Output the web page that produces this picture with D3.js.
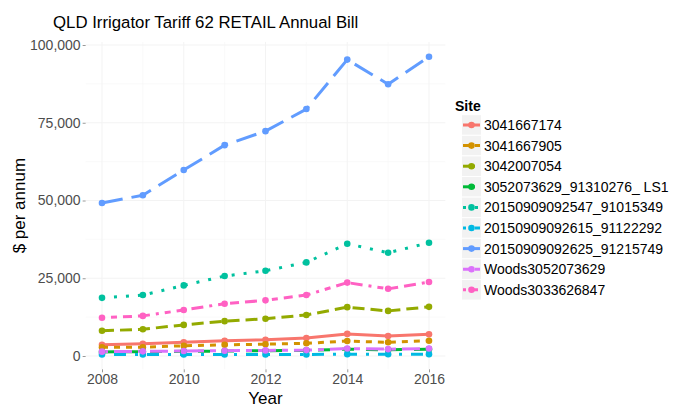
<!DOCTYPE html>
<html>
<head>
<meta charset="utf-8">
<script src="https://cdn.jsdelivr.net/npm/d3@7"></script>
<style>
  html, body { margin: 0; padding: 0; background: #fff; }
  svg { display: block; font-family: "Liberation Sans", Arial, Helvetica, sans-serif; }
</style>
</head>
<body>
<svg id="chart" width="674" height="411"></svg>
<script>
// ---- data ----
const years = [2008, 2009, 2010, 2011, 2012, 2013, 2014, 2015, 2016];
const sites = [
  "3041667174",
  "3041667905",
  "3042007054",
  "3052073629_91310276_ LS1",
  "20150909092547_91015349",
  "20150909092615_91122292",
  "20150909092625_91215749",
  "Woods3052073629",
  "Woods3033626847"
];
const s3041667174 = [3600, 3900, 4400, 4900, 5200, 5800, 7100, 6400, 7000];
const s3041667905 = [2800, 2800, 3300, 3600, 3800, 4100, 4800, 4400, 4900];
const s3042007054 = [8100, 8600, 10000, 11200, 12000, 13200, 15700, 14500, 15800];
const s3052073629LS1 = [1300, 1400, 1500, 1600, 1700, 1800, 2200, 2000, 2200];
const s20150909092547 = [18700, 19600, 22700, 25700, 27400, 30100, 36100, 33200, 36400];
const s20150909092615 = [500, 500, 500, 500, 500, 500, 600, 550, 600];
const s20150909092625 = [49200, 51700, 59800, 67800, 72300, 79400, 95300, 87400, 96200];
const sWoods3052073629 = [1400, 1500, 1600, 1700, 1800, 1900, 2400, 2200, 2400];
const sWoods3033626847 = [12300, 12900, 14800, 16800, 17900, 19600, 23600, 21600, 23800];
const seriesValues = [s3041667174, s3041667905, s3042007054, s3052073629LS1,
  s20150909092547, s20150909092615, s20150909092625, sWoods3052073629, sWoods3033626847];
const yTicks = [0, 25000, 50000, 75000, 100000];
const xTicks = [2008, 2010, 2012, 2014, 2016];
const colors = ["#F8766D", "#D39200", "#93AA00", "#00BA38", "#00C19F", "#00B9E3", "#619CFF", "#DB72FB", "#FF61C3"];
const linetypes = ["solid", "22", "42", "44", "13", "1343", "73", "2262", "12223242"];

// ---- layout ----
const svg = d3.select("#chart");
const lw = 3;
function dash(lt) {
  if (lt === "solid") return null;
  return lt.split("").map(c => parseInt(c, 16) * lw).join(",");
}

const x = d3.scaleLinear().domain([2008, 2016]).range([102, 429]);
const y = d3.scaleLinear().domain([0, 100000]).range([356, 45]);

const allVals = seriesValues.flat();
const yMin = d3.min(allVals), yMax = d3.max(allVals);
const yExp = (yMax - yMin) * 0.05;
const xExp = (2016 - 2008) * 0.05;
const panel = {
  left: x(2008 - xExp), right: x(2016 + xExp),
  top: y(yMax + yExp), bottom: y(yMin - yExp)
};

// grid
const grid = svg.append("g");
const yMinor = [12500, 37500, 62500, 87500];
const xMinor = [2009, 2011, 2013, 2015];
grid.selectAll("line.ymaj").data(yTicks).join("line")
  .attr("x1", panel.left).attr("x2", panel.right)
  .attr("y1", d => y(d)).attr("y2", d => y(d))
  .attr("stroke", "#F3F3F3").attr("stroke-width", 1);
grid.selectAll("line.ymin").data(yMinor).join("line")
  .attr("x1", panel.left).attr("x2", panel.right)
  .attr("y1", d => y(d)).attr("y2", d => y(d))
  .attr("stroke", "#F6F6F6").attr("stroke-width", 0.6);
grid.selectAll("line.xmaj").data(xTicks).join("line")
  .attr("y1", panel.top).attr("y2", panel.bottom)
  .attr("x1", d => x(d)).attr("x2", d => x(d))
  .attr("stroke", "#F3F3F3").attr("stroke-width", 1);
grid.selectAll("line.xmin").data(xMinor).join("line")
  .attr("y1", panel.top).attr("y2", panel.bottom)
  .attr("x1", d => x(d)).attr("x2", d => x(d))
  .attr("stroke", "#F6F6F6").attr("stroke-width", 0.6);

// axes
const yAxis = d3.axisLeft(y).tickValues(yTicks).tickSize(3).tickPadding(2)
  .tickFormat(d3.format(","));
const gy = svg.append("g").attr("transform", `translate(${panel.left},0)`).call(yAxis);
gy.select(".domain").remove();
gy.selectAll(".tick line").attr("stroke", "#999999");
gy.selectAll(".tick text").attr("fill", "#4D4D4D").style("font-size", "14px")
  .style("font-family", "'Liberation Sans', Arial, sans-serif");

const xAxis = d3.axisBottom(x).tickValues(xTicks).tickSize(3).tickPadding(2)
  .tickFormat(d3.format("d"));
const gx = svg.append("g").attr("transform", `translate(0,${panel.bottom})`).call(xAxis);
gx.select(".domain").remove();
gx.selectAll(".tick line").attr("stroke", "#999999");
gx.selectAll(".tick text").attr("fill", "#4D4D4D").style("font-size", "14px")
  .style("font-family", "'Liberation Sans', Arial, sans-serif");

// lines
const line = d3.line().x((d, i) => x(years[i])).y(d => y(d));
const gl = svg.append("g");
seriesValues.forEach((vals, si) => {
  gl.append("path").datum(vals)
    .attr("d", line)
    .attr("fill", "none")
    .attr("stroke", colors[si])
    .attr("stroke-width", lw)
    .attr("stroke-dasharray", dash(linetypes[si]))
    .attr("stroke-linejoin", "round")
    .attr("stroke-linecap", "butt");
});
const gp = svg.append("g");
seriesValues.forEach((vals, si) => {
  gp.selectAll(null).data(vals).join("circle")
    .attr("cx", (d, i) => x(years[i]))
    .attr("cy", d => y(d))
    .attr("r", 3.3)
    .attr("fill", colors[si]);
});

// titles
svg.append("text").attr("x", 53).attr("y", 27.5)
  .style("font-size", "16.8px").attr("fill", "#000")
  .text("QLD Irrigator Tariff 62 RETAIL Annual Bill");
svg.append("text").attr("x", (panel.left + panel.right) / 2).attr("y", 404)
  .attr("text-anchor", "middle").style("font-size", "17px").attr("fill", "#000")
  .text("Year");
svg.append("text").attr("transform", `translate(25,${(panel.top + panel.bottom) / 2}) rotate(-90)`)
  .attr("text-anchor", "middle").style("font-size", "17px").attr("fill", "#000")
  .text("$ per annum");

// legend
const leg = svg.append("g");
leg.append("text").attr("x", 455).attr("y", 111)
  .style("font-size", "14px").style("font-weight", "bold").attr("fill", "#000")
  .text("Site");
const rowH = 20.6, row0 = 125;
sites.forEach((s, i) => {
  const cy = row0 + i * rowH;
  leg.append("rect").attr("x", 461.5).attr("y", cy - rowH / 2).attr("width", 20).attr("height", rowH)
    .attr("fill", "#F2F2F2").attr("stroke", "#fff").attr("stroke-width", 1);
  leg.append("line").attr("x1", 463).attr("x2", 480).attr("y1", cy).attr("y2", cy)
    .attr("stroke", colors[i]).attr("stroke-width", lw)
    .attr("stroke-dasharray", dash(linetypes[i]));
  leg.append("circle").attr("cx", 471.5).attr("cy", cy).attr("r", 3.3).attr("fill", colors[i]);
  leg.append("text").attr("x", 484).attr("y", cy).attr("dy", "0.36em")
    .style("font-size", "14px").attr("fill", "#000").text(s);
});
</script>
</body>
</html>
